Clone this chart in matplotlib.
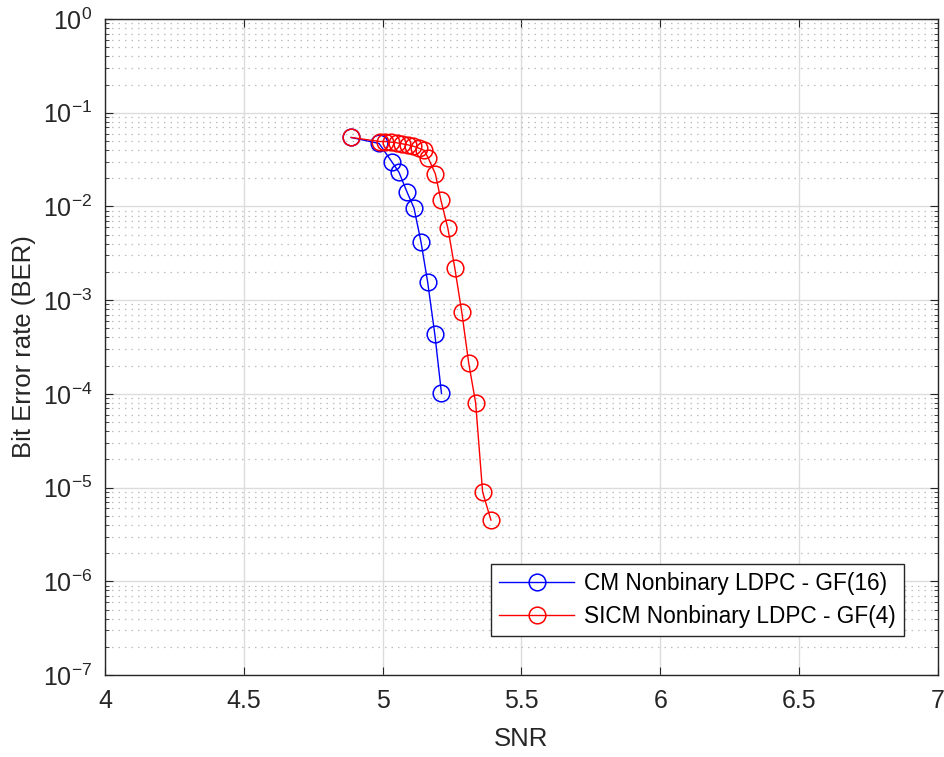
import numpy as np
import matplotlib.pyplot as plt
from matplotlib.ticker import LogLocator, NullFormatter

plt.rcParams['font.family'] = ['Liberation Sans', 'DejaVu Sans']
plt.rcParams['axes.unicode_minus'] = False
plt.rcParams['mathtext.default'] = 'regular'

# CM Nonbinary LDPC - GF(16)
snr_cm = [4.887, 4.987, 5.034, 5.059, 5.088, 5.113, 5.138, 5.162, 5.188, 5.212]
ber_cm = [0.0544, 0.047, 0.0297, 0.0231, 0.0142, 0.0096, 0.0042, 0.00157, 0.000431, 0.000101]

# SICM Nonbinary LDPC - GF(4)
snr_sicm = [4.887, 4.99, 5.01, 5.03, 5.05, 5.07, 5.09, 5.11, 5.13, 5.15, 5.165, 5.19,
            5.21, 5.235, 5.26, 5.285, 5.31, 5.335, 5.36, 5.39]
ber_sicm = [0.0544, 0.0493, 0.0493, 0.0485, 0.0478, 0.0466, 0.0455, 0.0440, 0.0419, 0.0396,
            0.0325, 0.0222, 0.0116, 0.00584, 0.00219, 0.000745, 0.000213, 8.0e-5, 9.0e-6, 4.5e-6]

labels = ['CM Nonbinary LDPC - GF(16)', 'SICM Nonbinary LDPC - GF(4)']
xticks = [4, 4.5, 5, 5.5, 6, 6.5, 7]
xticklabels = ['4', '4.5', '5', '5.5', '6', '6.5', '7']

fig = plt.figure(figsize=(9.44, 7.57), dpi=100)
ax = fig.add_axes([0.1112, 0.1083, 0.8824, 0.8666])

ax.semilogy(snr_cm, ber_cm, '-o', color='#0000ff', lw=1.0, ms=12, mfc='none', mew=1.1, label=labels[0])
ax.semilogy(snr_sicm, ber_sicm, '-o', color='#ff0000', lw=1.0, ms=12, mfc='none', mew=1.1, label=labels[1])

ax.set_xlim(4, 7)
ax.set_ylim(1e-7, 1)
ax.set_xticks(xticks)
ax.set_xticklabels(xticklabels)
ax.yaxis.set_major_locator(LogLocator(base=10, numticks=20))
ax.yaxis.set_minor_locator(LogLocator(base=10, subs=np.arange(2, 10), numticks=20))
ax.yaxis.set_minor_formatter(NullFormatter())

ax.grid(True, which='major', color='#dcdcdc', lw=1.0, ls='-')
ax.grid(True, which='minor', axis='y', color='#bdbdbd', lw=0.9, ls=(0, (1.2, 4)))
ax.set_axisbelow(True)

ax.tick_params(which='both', direction='in', top=True, right=True, colors='#262626',
               labelsize=18)
ax.tick_params(which='major', length=6)
ax.tick_params(which='minor', length=3)
ax.tick_params(axis='x', pad=10)
ax.tick_params(axis='y', pad=9)
for sp in ax.spines.values():
    sp.set_color('#262626')
    sp.set_linewidth(1.0)

ax.set_xlabel('SNR', fontsize=18.5, color='#262626', labelpad=10)
ax.set_ylabel('Bit Error rate (BER)', fontsize=18.5, color='#262626', labelpad=5)

leg = ax.legend(loc='lower right', bbox_to_anchor=(0.959, 0.059), borderaxespad=0,
                fontsize=16.3, fancybox=False, edgecolor='#262626', framealpha=1,
                handlelength=3.3, handletextpad=0.45, borderpad=0.35, labelspacing=0.45)
leg.get_frame().set_linewidth(1.0)

fig.savefig('out.png', dpi=100)
